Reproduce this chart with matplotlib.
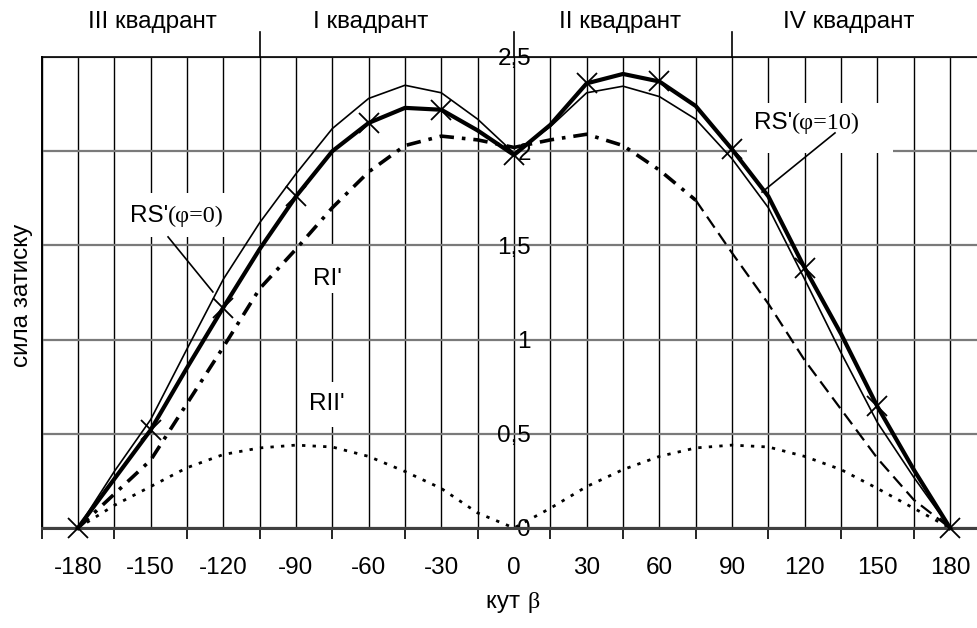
import matplotlib
matplotlib.use("Agg")
import matplotlib.pyplot as plt
from matplotlib.patches import Rectangle
import numpy as np

# ---------------- data ----------------
beta = [-180, -165, -150, -135, -120, -105, -90, -75, -60, -45, -30, -15, 0,
        15, 30, 45, 60, 75, 90, 105, 120, 135, 150, 165, 180]
rs_phi10 = [0, 0.26, 0.52, 0.85, 1.17, 1.48, 1.76, 2.00, 2.15, 2.23, 2.22, 2.11, 1.98,
            2.14, 2.36, 2.41, 2.37, 2.24, 2.01, 1.76, 1.38, 1.03, 0.645, 0.31, 0]
rs_phi0 = [0, 0.30, 0.575, 0.95, 1.32, 1.62, 1.88, 2.12, 2.28, 2.35, 2.31, 2.17, 1.99,
           2.13, 2.31, 2.345, 2.29, 2.17, 1.96, 1.70, 1.32, 0.93, 0.56, 0.27, 0]
ri = [0, 0.18, 0.36, 0.66, 0.96, 1.27, 1.48, 1.70, 1.89, 2.03, 2.08, 2.06, 2.02,
      2.06, 2.09, 2.03, 1.90, 1.74, 1.46, 1.19, 0.89, 0.63, 0.37, 0.15, 0]
rii = [0, 0.12, 0.22, 0.32, 0.39, 0.425, 0.44, 0.43, 0.38, 0.30, 0.21, 0.08, 0,
       0.105, 0.22, 0.31, 0.38, 0.425, 0.44, 0.43, 0.38, 0.31, 0.21, 0.105, 0]

x_labels = [-180, -150, -120, -90, -60, -30, 0, 30, 60, 90, 120, 150, 180]
y_ticks = [0, 0.5, 1, 1.5, 2, 2.5]
y_tick_labels = ["0", "0,5", "1", "1,5", "2", "2,5"]
quadrant_names = ["III квадрант", "I квадрант", "II квадрант", "IV квадрант"]
quadrant_centers = [-149.4, -59.0, 43.8, 138.3]
quadrant_dividers = [-105, 0, 90]

SANS = ["Liberation Sans", "DejaVu Sans"]
SERIF = ["Liberation Serif", "DejaVu Serif"]
FS = 17.5

fig = plt.figure(figsize=(9.77, 6.28), dpi=100)
ax = fig.add_axes([41.6 / 977, 1 - 528 / 628, (986.4 - 41.6) / 977, 471 / 628])
ax.set_xlim(-195, 195)
ax.set_ylim(0, 2.5)
ax.set_axisbelow(True)

# move y axis to x=15 first (this resets tick properties)
ax.spines["left"].set_position(("data", 15))
ax.spines["left"].set_visible(False)

# x ticks: labels at every 30, tick marks / grid in between
ax.set_xticks(x_labels)
ax.set_xticklabels([str(v) for v in x_labels], fontfamily=SANS, fontsize=FS)
ax.set_xticks(np.arange(-195, 196, 30), minor=True)
ax.tick_params(axis="x", which="major", length=0, pad=21)
ax.tick_params(axis="x", which="minor", length=8, width=1.2, color="black", direction="out")
ax.grid(True, axis="x", which="both", color="black", lw=1.0)

# y ticks
ax.set_yticks(y_ticks)
ax.set_yticklabels(y_tick_labels, fontfamily=SANS, fontsize=FS)
ax.tick_params(axis="y", length=0, pad=14, labelsize=FS)
ax.grid(True, axis="y", which="major", color="#7a7a7a", lw=1.6)

ax.spines["right"].set_visible(False)
ax.spines["top"].set_color("black")
ax.spines["top"].set_linewidth(1.2)
ax.spines["bottom"].set_color("#404040")
ax.spines["bottom"].set_linewidth(2.2)
ax.axvline(-195, color="black", lw=1.4, clip_on=False, zorder=0.6)

# white label boxes (cover grid)
for (x0, x1, y0, y1) in [(96.2, 156.5, 1.99, 2.256), (-161.8, -114.4, 1.545, 1.778),
                         (-86.3, -67.7, 1.247, 1.495), (-86.3, -67.7, 0.536, 0.775)]:
    ax.add_patch(Rectangle((x0, y0), x1 - x0, y1 - y0, facecolor="white",
                           edgecolor="none", zorder=1))

# series
ax.plot(beta, rii, color="black", lw=2.0, linestyle=(0, (1.2, 2.6)), zorder=2)
split = beta.index(75)
ax.plot(beta[:split + 1], ri[:split + 1], color="black", lw=2.6,
        linestyle=(0, (4, 2.2, 1, 2.2)), zorder=2)
ax.plot(beta[split:], ri[split:], color="black", lw=1.6,
        linestyle=(0, (6, 3)), zorder=2)
ax.plot(beta, rs_phi0, color="black", lw=1.2, zorder=3)
ax.plot(beta, rs_phi10, color="black", lw=3.0, marker="x", markersize=15,
        markeredgewidth=1.3, markevery=2, zorder=4, clip_on=False)

# series labels
def two_part(x, y, a, b):
    ax.text(x, y, a, ha="right", va="baseline", fontfamily=SANS, fontsize=FS, zorder=5)
    ax.text(x, y, b, ha="left", va="baseline", fontfamily=SERIF, fontsize=FS, zorder=5)

two_part(114.8, 2.118, "RS'", "(φ=10)")
two_part(-142.8, 1.624, "RS'", "(φ=0)")
ax.text(-77.2, 1.29, "RI'", ha="center", va="baseline", fontfamily=SANS, fontsize=FS, zorder=5)
ax.text(-77.2, 0.626, "RII'", ha="center", va="baseline", fontfamily=SANS, fontsize=FS, zorder=5)

# leader lines
ax.plot([132.5, 102.4], [2.097, 1.783], color="black", lw=1.2, zorder=5)
ax.plot([-142.8, -124.3], [1.545, 1.253], color="black", lw=1.2, zorder=5)

# quadrant labels and dividers
for name, xc in zip(quadrant_names, quadrant_centers):
    ax.text(xc, 2.686, name, ha="center", va="center", fontfamily=SANS,
            fontsize=FS, clip_on=False)
for xd in quadrant_dividers:
    ax.plot([xd, xd], [2.5, 2.635], color="black", lw=1.2, clip_on=False)

# axis titles
ax.text(5.4, -0.425, "кут ", ha="right", va="baseline", fontfamily=SANS, fontsize=FS, clip_on=False)
ax.text(5.6, -0.425, "β", ha="left", va="baseline", fontfamily=SERIF, fontsize=FS, clip_on=False)
ax.text(-203.1, 1.237, "сила затиску", rotation=90, ha="center", va="center",
        fontfamily=SANS, fontsize=FS, clip_on=False)

fig.savefig("out.png", dpi=100)
